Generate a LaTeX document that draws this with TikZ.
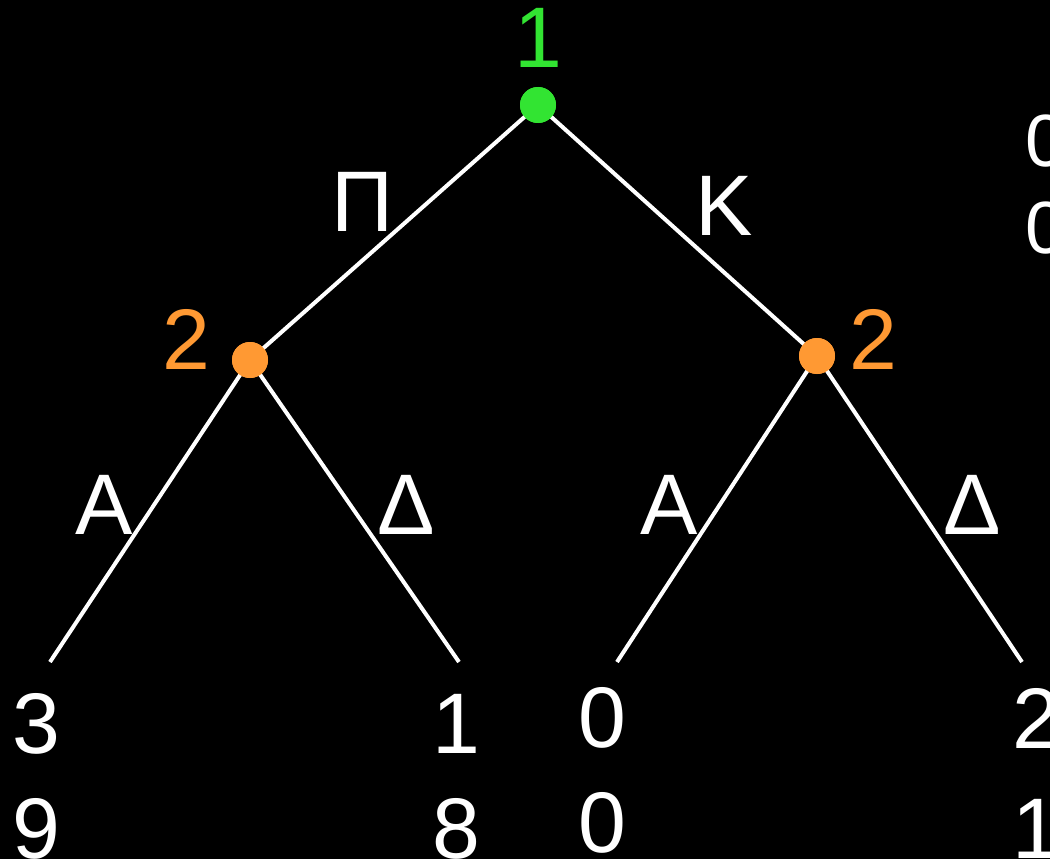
\documentclass[tikz,border=0pt]{standalone}
\usepackage{fontspec}
\setmainfont{Liberation Sans}
\definecolor{nodegreen}{RGB}{50,228,50}
\definecolor{nodeorange}{RGB}{255,153,51}
\begin{document}
\begin{tikzpicture}[x=1pt,y=-1pt,
  edge/.style={draw=white,line width=4pt},
  dotg/.style={circle,fill=nodegreen,minimum size=36pt,inner sep=0pt},
  doto/.style={circle,fill=nodeorange,minimum size=36pt,inner sep=0pt},
  lbl/.style={inner sep=0pt,text=white,font=\fontsize{86}{100}\selectfont},
  small/.style={inner sep=0pt,text=white,font=\fontsize{74}{86}\selectfont}]
\fill[black] (0,0) rectangle (1050,859);
\useasboundingbox (0,0) rectangle (1050,859);
\clip (0,0) rectangle (1050,859);
% leaf endpoints
\coordinate (l1) at (50,662);
\coordinate (l2) at (459,662);
\coordinate (l3) at (617,662);
\coordinate (l4) at (1022,662);
% decision nodes
\node[dotg] (r) at (538,105) {};
\node[doto] (a) at (250,360) {};
\node[doto] (b) at (817,356) {};
% edges
\begin{scope}[on background layer/.style={}]
\end{scope}
\draw[edge] (r.center) -- (a.center);
\draw[edge] (r.center) -- (b.center);
\draw[edge] (a.center) -- (l1);
\draw[edge] (a.center) -- (l2);
\draw[edge] (b.center) -- (l3);
\draw[edge] (b.center) -- (l4);
% redraw dots on top
\node[dotg] at (r) {};
\node[doto] at (a) {};
\node[doto] at (b) {};
% player labels
\node[lbl,text=nodegreen] (p1) at (538,38) {1};
\node[lbl,text=nodeorange] (p2a) at (186,339) {2};
\node[lbl,text=nodeorange] (p2b) at (873,339) {2};
% action labels
\node[lbl] (pi) at (363,202) {Π};
\node[lbl] (ka) at (724,206) {Κ};
\node[lbl] (a1) at (104,505) {Α};
\node[lbl] (d1) at (406,505) {Δ};
\node[lbl] (a2) at (669,505) {Α};
\node[lbl] (d2) at (972,505) {Δ};
% payoffs
\node[lbl] (u1a) at (36,724) {3};
\node[lbl] (u2a) at (36,829) {9};
\node[lbl] (u1b) at (456,724) {1};
\node[lbl] (u2b) at (456,829) {8};
\node[lbl] (u1c) at (602,718) {0};
\node[lbl] (u2c) at (602,823) {0};
\node[lbl] (u1d) at (1036,718) {2};
\node[lbl] (u2d) at (1036,829) {1};
% cut-off text at the right
\node[small,anchor=west] (c1) at (1025,141) {0};
\node[small,anchor=west] (c2) at (1025,228) {0};
\end{tikzpicture}
\end{document}
